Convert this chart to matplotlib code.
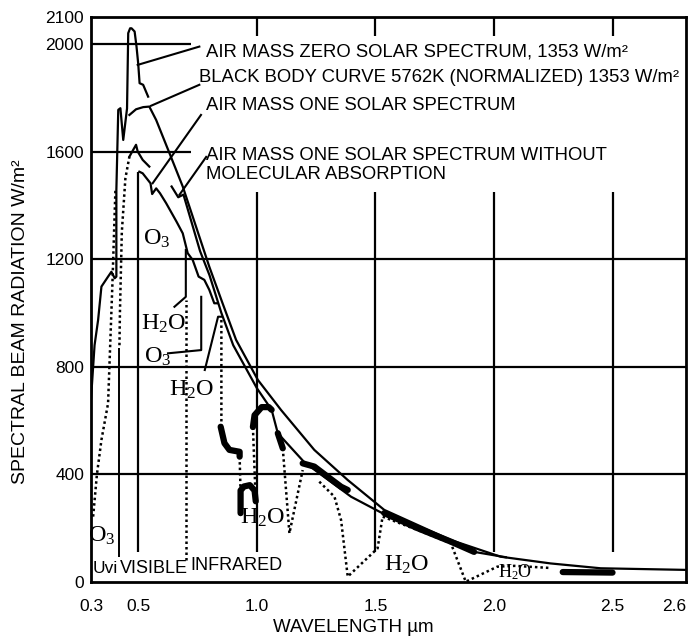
import numpy as np
import matplotlib
matplotlib.use("Agg")
import matplotlib.pyplot as plt

# ---------------- data ----------------
xticks = [0.3, 0.5, 1.0, 1.5, 2.0, 2.5, 2.6]
xticklabels = ["0.3", "0.5", "1.0", "1.5", "2.0", "2.5", "2.6"]
yticks = [0, 400, 800, 1200, 1600, 2000, 2100]
yticklabels = ["0", "400", "800", "1200", "1600", "2000", "2100"]

# Air mass zero spectrum (solid, jagged, UV/visible part)
am0_x = [0.300, 0.315, 0.330, 0.344, 0.372, 0.386, 0.400, 0.407, 0.407, 0.415, 0.424,
         0.436, 0.452, 0.457, 0.465, 0.471, 0.484, 0.492, 0.499, 0.505, 0.520, 0.541]
am0_y = [680, 880, 974, 1098, 1135, 1153, 1129, 1135, 1457, 1755, 1761,
         1643, 1760, 2040, 2058, 2058, 2046, 1990, 1928, 1854, 1848, 1804]

# Black body curve (smooth, normalized)
bb_x = [0.462, 0.490, 0.520, 0.546, 0.575, 0.631, 0.687, 0.743, 0.799, 0.855, 0.912,
        1.004, 1.102, 1.242, 1.383, 1.537, 1.818, 2.028, 2.239, 2.450, 2.600]
bb_y = [1736, 1757, 1765, 1767, 1717, 1594, 1470, 1321, 1172, 1036, 900,
        751, 639, 491, 379, 268, 156, 94, 69, 51, 45]

# Air mass one spectrum: visible hump (solid)
am1_vis_x = [0.462, 0.490, 0.497, 0.518, 0.546]
am1_vis_y = [1581, 1625, 1600, 1569, 1544]

# Air mass one: jagged solid line in visible
am1_j_x = [0.504, 0.518, 0.551, 0.558, 0.575, 0.591, 0.617, 0.661, 0.687, 0.708,
           0.729, 0.754, 0.778, 0.799, 0.820, 0.834]
am1_j_y = [1525, 1519, 1482, 1442, 1463, 1445, 1408, 1339, 1296, 1222,
           1197, 1135, 1123, 1086, 1036, 1036]

# Air mass one without molecular absorption (solid)
am1w_x = [0.640, 0.668, 0.690, 0.720, 0.760, 0.800, 0.850, 0.900, 0.950, 1.000,
          1.062, 1.088, 1.200, 1.397, 1.537, 1.700, 1.916, 2.050]
am1w_y = [1470, 1430, 1440, 1350, 1230, 1140, 1000, 880, 800, 720,
          640, 553, 445, 317, 252, 190, 112, 92]

# Air mass one spectrum, dotted parts
am1_dot_uv_x = [0.309, 0.325, 0.344, 0.372, 0.390, 0.403]
am1_dot_uv_y = [243, 400, 528, 664, 1100, 1457]
am1_dot_uv2_x = [0.420, 0.422, 0.430, 0.445, 0.462]
am1_dot_uv2_y = [880, 1000, 1300, 1500, 1581]
am1_dot_ir_x = [0.850, 0.850, None, 0.927, 0.931, None, 0.995, 0.983, None, 1.109, 1.137,
                1.193, None, 1.263, 1.327, 1.355, 1.383, 1.509, 1.530, 1.678, 1.818,
                1.881, 2.014, 2.087, 2.240]
am1_dot_ir_y = [974, 577, None, 466, 330, None, 300, 576, None, 497, 181,
                416, None, 373, 317, 230, 20, 125, 243, 193, 144,
                1, 57, 60, 52]

# Air mass one, thick solid segments (IR windows)
blob1_x = [0.847, 0.863, 0.884, 0.927, 0.927]
blob1_y = [577, 516, 491, 484, 466]
blob2_x = [0.931, 0.931, 0.945, 0.970, 0.990, 0.995]
blob2_y = [256, 340, 355, 360, 340, 300]
blob3_x = [0.983, 0.990, 1.020, 1.050, 1.062]
blob3_y = [576, 620, 650, 650, 640]
blob4_x = [1.088, 1.109]
blob4_y = [553, 497]
blob5_x = [1.193, 1.242, 1.299, 1.355, 1.383]
blob5_y = [441, 429, 391, 354, 342]
blob6_x = [1.537, 1.678, 1.818, 1.916]
blob6_y = [256, 200, 150, 112]
blob7_x = [2.290, 2.400, 2.500]
blob7_y = [37, 36, 35]

# boundary lines
uv_vis_x = 0.42
vis_ir_x = 0.70

# labels
chem_labels = [("O$_3$", 0.578, 1275, 17.5), ("H$_2$O", 0.605, 960, 17.5),
               ("O$_3$", 0.583, 836, 17.5), ("H$_2$O", 0.723, 714, 17.5),
               ("H$_2$O", 1.026, 238, 17.5), ("O$_3$", 0.345, 170, 17.5),
               ("H$_2$O", 1.633, 63, 17.5), ("H$_2$O", 2.087, 37, 13)]
notes = [("AIR MASS ZERO SOLAR SPECTRUM, 1353 W/m\u00b2", 0.786, 1970),
         ("BLACK BODY CURVE 5762K (NORMALIZED) 1353 W/m\u00b2", 0.757, 1874),
         ("AIR MASS ONE SOLAR SPECTRUM", 0.786, 1770),
         ("AIR MASS ONE SOLAR SPECTRUM WITHOUT", 0.786, 1587),
         ("MOLECULAR ABSORPTION", 0.786, 1513)]
leaders = [([0.497, 0.757], [1922, 1990]),
           ([0.553, 0.757], [1770, 1848]),
           ([0.560, 0.764], [1482, 1736]),
           ([0.673, 0.786], [1439, 1580]),
           ([0.652, 0.700, 0.700], [1023, 1060, 1234]),
           ([0.625, 0.765, 0.765], [850, 862, 1060]),
           ([0.780, 0.836, 0.850], [788, 986, 986])]

# ---------------- figure ----------------
def fwd(x):
    x = np.asarray(x, dtype=float)
    return np.where(x <= 2.5, x, 2.5 + (x - 2.5) * 3.1)

def inv(y):
    y = np.asarray(y, dtype=float)
    return np.where(y <= 2.5, y, 2.5 + (y - 2.5) / 3.1)

plt.rcParams['font.family'] = ['Liberation Sans', 'DejaVu Sans']
plt.rcParams['mathtext.default'] = 'regular'

fig = plt.figure(figsize=(6.94, 6.37), dpi=100)
ax = fig.add_axes([91/694, 55/637, 595/694, 565/637])
ax.set_xscale('function', functions=(fwd, inv))
ax.set_xlim(0.3, 2.6)
ax.set_ylim(0, 2100)

lw = 1.6
k = 'black'
# grid
ax.hlines([400, 800, 1200], 0.3, 2.6, color=k, lw=1.6)
ax.hlines([1600, 2000], 0.3, 0.723, color=k, lw=1.6)
for gx in [1.0, 1.5, 2.0, 2.5]:
    ax.vlines(gx, 110, 1450, color=k, lw=1.6)
    ax.vlines(gx, 2030, 2100, color=k, lw=1.6)
ax.vlines(0.5, 110, 1525, color=k, lw=1.6)
ax.vlines(uv_vis_x, 93, 870, color=k, lw=1.4)
ax.vlines(vis_ir_x, 82, 1050, color=k, lw=1.8, linestyles=(0, (1, 1.2)))

def none_split(xs, ys):
    return [np.nan if v is None else v for v in xs], [np.nan if v is None else v for v in ys]

ax.plot(am0_x, am0_y, color=k, lw=lw)
ax.plot(bb_x, bb_y, color=k, lw=lw)
ax.plot(am1_vis_x, am1_vis_y, color=k, lw=lw)
ax.plot(am1_j_x, am1_j_y, color=k, lw=lw)
ax.plot(am1w_x, am1w_y, color=k, lw=lw)
dot = dict(color=k, lw=1.8, linestyle=(0, (1, 1.2)))
ax.plot(am1_dot_uv_x, am1_dot_uv_y, **dot)
ax.plot(am1_dot_uv2_x, am1_dot_uv2_y, **dot)
ax.plot(*none_split(am1_dot_ir_x, am1_dot_ir_y), **dot)
for bx, by in [(blob1_x, blob1_y), (blob2_x, blob2_y), (blob3_x, blob3_y),
               (blob4_x, blob4_y), (blob5_x, blob5_y), (blob6_x, blob6_y), (blob7_x, blob7_y)]:
    ax.plot(bx, by, color=k, lw=4.5, solid_capstyle='round')

for lx, ly in leaders:
    ax.plot(lx, ly, color=k, lw=1.5)

for s, x, y, fs in chem_labels:
    ax.text(x, y, s, fontsize=fs, family='Liberation Serif', ha='center', va='center')
for s, x, y in notes:
    ax.text(x, y, s, fontsize=13.3, ha='left', va='center')

ax.text(0.306, 52, "Uvi", fontsize=12.5, ha='left', va='center')
ax.text(0.423, 52, "VISIBLE", fontsize=13, ha='left', va='center')
ax.text(0.72, 60, "INFRARED", fontsize=13, ha='left', va='center')

ax.set_xticks(xticks)
ax.set_xticklabels(xticklabels)
ax.set_yticks(yticks)
ax.set_yticklabels(yticklabels)
ax.tick_params(length=0, labelsize=12.5)
ax.tick_params(axis='x', pad=12)
ax.tick_params(axis='y', pad=5)
ax.get_xticklabels()[-1].set_horizontalalignment('right')
for sp in ax.spines.values():
    sp.set_linewidth(2.0)

fig.text(353/694, 1 - 627/637, "WAVELENGTH \u00b5m", fontsize=13.5, ha='center', va='center')
fig.text(21/694, 1 - 322/637, "SPECTRAL BEAM RADIATION W/m\u00b2", fontsize=14,
         rotation=90, ha='center', va='center')

fig.savefig("out.png", dpi=100)
